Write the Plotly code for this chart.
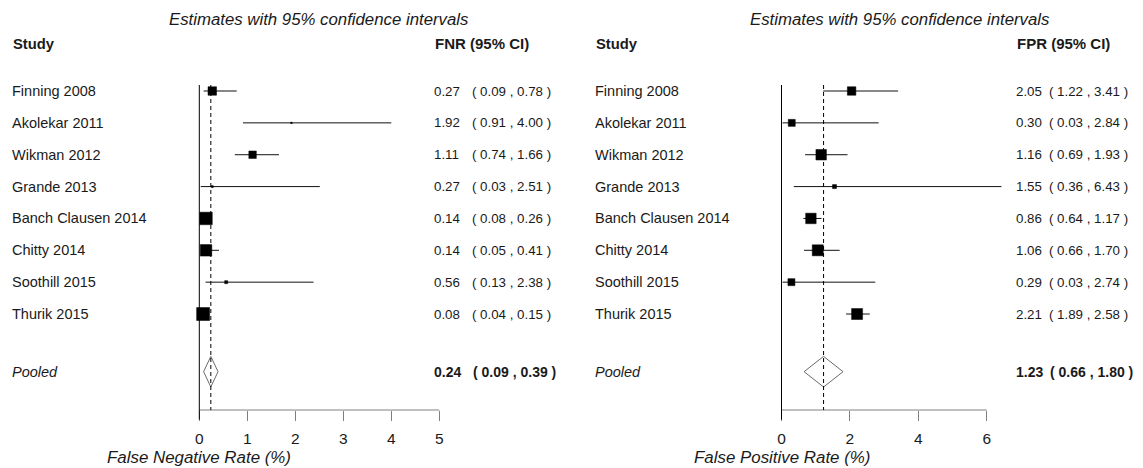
import plotly.graph_objects as go

W, H = 1143, 468

# ---------------- data ----------------
studies = ["Finning 2008", "Akolekar 2011", "Wikman 2012", "Grande 2013",
           "Banch Clausen 2014", "Chitty 2014", "Soothill 2015", "Thurik 2015"]

fnr_est = [0.27, 1.92, 1.11, 0.27, 0.14, 0.14, 0.56, 0.08]
fnr_lo = [0.09, 0.91, 0.74, 0.03, 0.08, 0.05, 0.13, 0.04]
fnr_hi = [0.78, 4.00, 1.66, 2.51, 0.26, 0.41, 2.38, 0.15]
fnr_pooled = [0.24, 0.09, 0.39]

fpr_est = [2.05, 0.30, 1.16, 1.55, 0.86, 1.06, 0.29, 2.21]
fpr_lo = [1.22, 0.03, 0.69, 0.36, 0.64, 0.66, 0.03, 1.89]
fpr_hi = [3.41, 2.84, 1.93, 6.43, 1.17, 1.70, 2.74, 2.58]
fpr_pooled = [1.23, 0.66, 1.80]

fnr_ticks = [0, 1, 2, 3, 4, 5]
fpr_ticks = [0, 2, 4, 6]

# ---------------- styles (box sizes reflect study weights, in px) ----------------
fnr_box_px = [8.5, 1.5, 7.5, 2, 12.5, 11.5, 3, 13]
fpr_box_px = [8.5, 7, 10.5, 4, 10.5, 11, 7, 11]

FONT = "Liberation Sans, Arial, sans-serif"
TXT = "#1a1a1a"
ROW0_PX, ROW_STEP_PX = 91.0, 31.86
AXIS_PX = 410.0
POOLED_ROW = 9.81


def fx(px):
    return px / W


def fy(py):
    return 1 - py / H


rows = list(range(1, len(studies) + 1))
y_bottom = 1 + (AXIS_PX - ROW0_PX) / ROW_STEP_PX
y_top = 1 - ROW0_PX / ROW_STEP_PX

panels = [
    dict(xa="x", ax="xaxis", est=fnr_est, lo=fnr_lo, hi=fnr_hi, pooled=fnr_pooled,
         box=fnr_box_px, ticks=fnr_ticks, zero_px=199.3, unit_px=48.0, rng=[-0.3, 5.2],
         label_px=11, val_px=433, ci_px=471, head_px=434, head="FNR (95% CI)",
         title_c=319, axtitle="False Negative Rate (%)"),
    dict(xa="x2", ax="xaxis2", est=fpr_est, lo=fpr_lo, hi=fpr_hi, pooled=fpr_pooled,
         box=fpr_box_px, ticks=fpr_ticks, zero_px=781.5, unit_px=34.2, rng=[-0.3, 6.7],
         label_px=594, val_px=1015, ci_px=1048, head_px=1016, head="FPR (95% CI)",
         title_c=900.5, axtitle="False Positive Rate (%)"),
]

fig = go.Figure()
shapes = []
annotations = []
layout_axes = {}

for p in panels:
    xa = p["xa"]
    # CI lines
    xs, ys = [], []
    for lo, hi, r in zip(p["lo"], p["hi"], rows):
        xs += [lo, hi, None]
        ys += [r, r, None]
    fig.add_trace(go.Scatter(x=xs, y=ys, mode="lines", xaxis=xa, yaxis="y",
                             line=dict(color="#111111", width=1), hoverinfo="skip",
                             showlegend=False, cliponaxis=False))
    # boxes
    fig.add_trace(go.Scatter(x=p["est"], y=rows, mode="markers", xaxis=xa, yaxis="y",
                             marker=dict(symbol="square", size=p["box"], color="black",
                                         opacity=1, line=dict(width=0.5, color="black")),
                             showlegend=False, cliponaxis=False))
    # pooled diamond
    pe, pl, ph = p["pooled"]
    hh = 0.48
    fig.add_trace(go.Scatter(x=[pl, pe, ph, pe, pl], y=[POOLED_ROW, POOLED_ROW - hh, POOLED_ROW,
                                                         POOLED_ROW + hh, POOLED_ROW],
                             mode="lines", xaxis=xa, yaxis="y",
                             line=dict(color="#6a6a6a", width=1), showlegend=False,
                             cliponaxis=False))

    # axis
    d0 = (p["zero_px"] + p["rng"][0] * p["unit_px"]) / W
    d1 = (p["zero_px"] + p["rng"][1] * p["unit_px"]) / W
    layout_axes[p["ax"]] = dict(
        domain=[d0, d1], range=p["rng"], anchor="y", showline=False, showgrid=False,
        zeroline=False, ticks="outside", ticklen=10, tickwidth=1, tickcolor="#808080",
        tickvals=p["ticks"], ticktext=[str(t) for t in p["ticks"]],
        tickfont=dict(family=FONT, size=15.5, color=TXT), ticklabelstandoff=4,
        fixedrange=True,
    )
    # axis line (only from 0 to last tick)
    shapes.append(dict(type="line", xref=xa, yref="paper", x0=p["ticks"][0], x1=p["ticks"][-1],
                       y0=fy(AXIS_PX), y1=fy(AXIS_PX), line=dict(color="#808080", width=1)))
    # solid reference line at 0
    shapes.append(dict(type="line", xref=xa, yref="paper", x0=0, x1=0,
                       y0=fy(85), y1=fy(AXIS_PX + 9.5), line=dict(color="black", width=1)))
    # dashed line at pooled estimate
    shapes.append(dict(type="line", xref=xa, yref="paper", x0=pe, x1=pe,
                       y0=fy(85), y1=fy(AXIS_PX), line=dict(color="black", width=1,
                                                           dash="4px,3px")))

    # texts
    annotations.append(dict(text="<i>Estimates with 95% confidence intervals</i>", xref="paper",
                            yref="paper", x=fx(p["title_c"]), y=fy(20), xanchor="center",
                            yanchor="middle", showarrow=False,
                            font=dict(family=FONT, size=16.8, color=TXT)))
    annotations.append(dict(text="<b>Study</b>", xref="paper", yref="paper",
                            x=fx(p["label_px"] + 1), y=fy(44), xanchor="left", yanchor="middle",
                            showarrow=False, borderpad=0,
                            font=dict(family=FONT, size=14.8, color=TXT)))
    annotations.append(dict(text="<b>%s</b>" % p["head"], xref="paper", yref="paper",
                            x=fx(p["head_px"]), y=fy(43), xanchor="left", yanchor="middle",
                            showarrow=False, borderpad=0,
                            font=dict(family=FONT, size=15, color=TXT)))
    for name, e, lo, hi, r in zip(studies, p["est"], p["lo"], p["hi"], rows):
        annotations.append(dict(text=name, xref="paper", yref="y", x=fx(p["label_px"]), y=r,
                                xanchor="left", yanchor="middle", showarrow=False, borderpad=0,
                                font=dict(family=FONT, size=14.5, color=TXT)))
        annotations.append(dict(text="%.2f" % e, xref="paper", yref="y", x=fx(p["val_px"]), y=r,
                                xanchor="left", yanchor="middle", showarrow=False, borderpad=0,
                                font=dict(family=FONT, size=13.3, color=TXT)))
        annotations.append(dict(text="( %.2f , %.2f )" % (lo, hi), xref="paper", yref="y",
                                x=fx(p["ci_px"]), y=r, xanchor="left", yanchor="middle",
                                showarrow=False, borderpad=0,
                                font=dict(family=FONT, size=13.3, color=TXT)))
    annotations.append(dict(text="<i>Pooled</i>", xref="paper", yref="y", x=fx(p["label_px"]),
                            y=POOLED_ROW, xanchor="left", yanchor="middle", showarrow=False,
                            borderpad=0, font=dict(family=FONT, size=14.5, color=TXT)))
    annotations.append(dict(text="<b>%.2f</b>" % pe, xref="paper", yref="y", x=fx(p["val_px"]),
                            y=POOLED_ROW, xanchor="left", yanchor="middle", showarrow=False,
                            borderpad=0, font=dict(family=FONT, size=14, color=TXT)))
    annotations.append(dict(text="<b>( %.2f , %.2f )</b>" % (pl, ph), xref="paper", yref="y",
                            x=fx(p["ci_px"] + 1), y=POOLED_ROW, xanchor="left", yanchor="middle",
                            showarrow=False, borderpad=0,
                            font=dict(family=FONT, size=14, color=TXT)))
    annotations.append(dict(text="<i>%s</i>" % p["axtitle"], xref=xa, yref="paper", x=0,
                            y=fy(457), xanchor="center", yanchor="middle", showarrow=False,
                            font=dict(family=FONT, size=16.9, color=TXT)))

fig.update_layout(
    width=W, height=H, margin=dict(l=0, r=0, t=0, b=0),
    paper_bgcolor="white", plot_bgcolor="white", showlegend=False,
    yaxis=dict(domain=[fy(AXIS_PX), 1], range=[y_bottom, y_top], visible=False,
               fixedrange=True, anchor="x"),
    shapes=shapes, annotations=annotations,
    **layout_axes,
)

fig.write_html("out.html", config={"displayModeBar": False})
